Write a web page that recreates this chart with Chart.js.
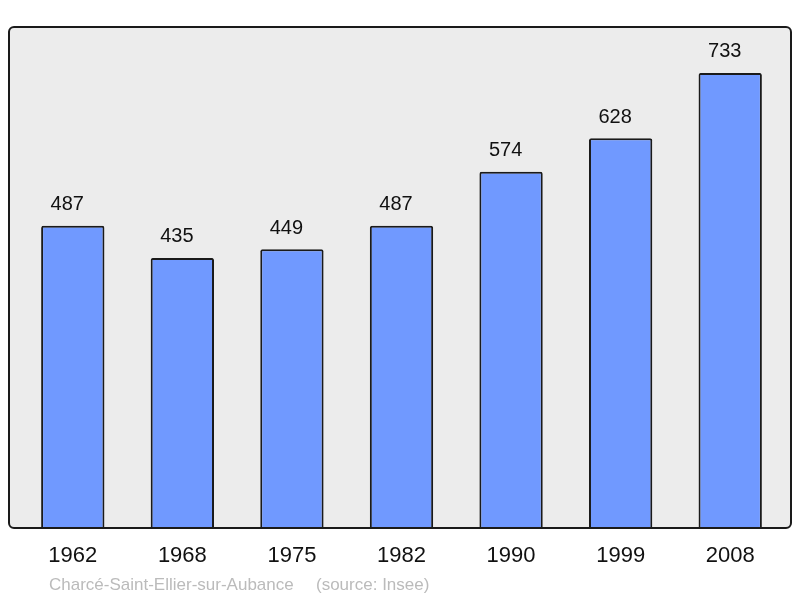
<!DOCTYPE html>
<html>
<head>
<meta charset="utf-8">
<script src="https://cdn.jsdelivr.net/npm/chart.js@4/dist/chart.umd.min.js"></script>
<style>
  html, body { margin: 0; padding: 0; background: #fff; }
  canvas { display: block; }
</style>
</head>
<body>
<canvas id="population" width="800" height="598"></canvas>
<script>
var years = ["1962", "1968", "1975", "1982", "1990", "1999", "2008"];
var population = [487, 435, 449, 487, 574, 628, 733];
var yMax = 807;
var commune = "Charcé-Saint-Ellier-sur-Aubance";
var source = "(source: Insee)";

var barColor = "#7099ff";
var lineColor = "#1a1a1a";

// grey rounded frame behind the bars, its outline drawn over them
var frame = {
   id: "frame",
   box: function (chart) {
      var a = chart.chartArea;
      return { x: a.left - 9, y: a.top, w: (a.right + 6) - (a.left - 9), h: a.bottom - a.top };
   },
   beforeDatasetsDraw: function (chart) {
      var c = chart.ctx, b = this.box(chart);
      c.save();
      c.fillStyle = "#ececec";
      c.beginPath();
      c.roundRect(b.x, b.y, b.w, b.h, 5);
      c.fill();
      c.restore();
   },
   afterDatasetsDraw: function (chart) {
      var c = chart.ctx, b = this.box(chart);
      c.save();
      c.strokeStyle = lineColor;
      c.lineWidth = 2;
      c.beginPath();
      c.roundRect(b.x, b.y, b.w, b.h, 5);
      c.stroke();

      // value above each bar
      var meta = chart.getDatasetMeta(0);
      c.fillStyle = "#111";
      c.font = "20px 'Liberation Sans', Arial, sans-serif";
      c.textAlign = "center";
      c.textBaseline = "middle";
      meta.data.forEach(function (bar, i) {
         c.fillText(String(population[i]), bar.x - 5.5, bar.y - 21);
      });

      // footer
      c.fillStyle = "#bbbbbb";
      c.font = "17px 'Liberation Sans', Arial, sans-serif";
      c.textAlign = "left";
      c.textBaseline = "alphabetic";
      c.fillText(commune, 49, 590);
      c.fillText(source, 316, 590);
      c.restore();
   }
};

new Chart("population", {
   type: "bar",
   data: {
      labels: years,
      datasets: [{
         data: population,
         backgroundColor: barColor,
         borderColor: lineColor,
         borderWidth: 2,
         borderRadius: 2,
         borderSkipped: "bottom",
         categoryPercentage: 1,
         barPercentage: 0.578
      }]
   },
   plugins: [frame],
   options: {
      responsive: false,
      animation: false,
      devicePixelRatio: 1,
      layout: {
         padding: { left: 18, right: 15, top: 27, bottom: 13.6 }
      },
      plugins: {
         legend: { display: false },
         tooltip: { enabled: false }
      },
      scales: {
         x: {
            grid: { display: false, drawTicks: false },
            border: { display: false },
            ticks: {
               color: "#111",
               padding: 15,
               font: { family: "'Liberation Sans', Arial, sans-serif", size: 22 }
            }
         },
         y: {
            display: false,
            min: 0,
            max: yMax
         }
      }
   }
});
</script>
</body>
</html>
